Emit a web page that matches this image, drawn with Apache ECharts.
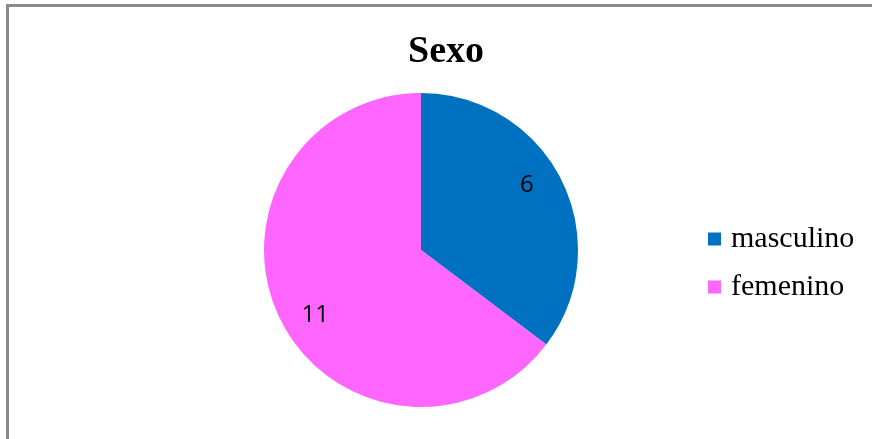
<!DOCTYPE html>
<html>
<head>
<meta charset="utf-8">
<script src="https://cdn.jsdelivr.net/npm/echarts@6/dist/echarts.min.js"></script>
<style>
  html, body { margin: 0; padding: 0; background: #fff; }
  #frame { position: absolute; left: 6px; top: 4px; width: 866px; height: 435px;
           border-left: 3px solid #8a8a8a; border-top: 3px solid #8a8a8a; box-sizing: border-box; }
  #chart { position: absolute; left: 0; top: 0; width: 872px; height: 439px; }
</style>
</head>
<body>
<div id="frame"></div>
<div id="chart"></div>
<script>
// Survey breakdown by sex
const categories = ['masculino', 'femenino'];
const counts = [6, 11];
const colors = ['#0070C0', '#FF66FF'];

const pieData = categories.map((name, i) => ({
  name: name,
  value: counts[i],
  itemStyle: { color: colors[i] }
}));

const chart = echarts.init(document.getElementById('chart'), null, { renderer: 'canvas' });
chart.setOption({
  backgroundColor: 'transparent',
  animation: false,
  title: {
    text: 'Sexo',
    left: 403,
    top: 28,
    textStyle: { fontFamily: 'Liberation Serif', fontWeight: 'bold', fontSize: 38, color: '#000' }
  },
  legend: {
    orient: 'vertical',
    left: 703,
    top: 219,
    itemWidth: 13,
    itemHeight: 13,
    itemGap: 18,
    icon: 'rect',
    data: categories,
    textStyle: { fontFamily: 'Liberation Serif', fontSize: 30, color: '#000', padding: [0, 0, 0, 5] }
  },
  series: [
    {
      type: 'pie',
      center: [421, 250],
      radius: [0, 157],
      startAngle: 90,
      clockwise: true,
      data: pieData,
      label: { show: false },
      labelLine: { show: false },
      itemStyle: { borderWidth: 0 },
      emphasis: { disabled: true }
    },
    {
      // transparent ring that carries the value labels, set a little ahead of the slice midpoints
      type: 'pie',
      center: [421, 250],
      radius: [85, 157],
      startAngle: 95,
      clockwise: true,
      silent: true,
      data: pieData.map(d => ({ name: d.name, value: d.value })),
      itemStyle: { color: 'rgba(0,0,0,0)', borderWidth: 0 },
      label: {
        show: true,
        position: 'inside',
        formatter: '{c}',
        fontFamily: 'Open Sans',
        fontSize: 24,
        color: '#000'
      },
      labelLine: { show: false },
      emphasis: { disabled: true }
    }
  ]
});
</script>
</body>
</html>
